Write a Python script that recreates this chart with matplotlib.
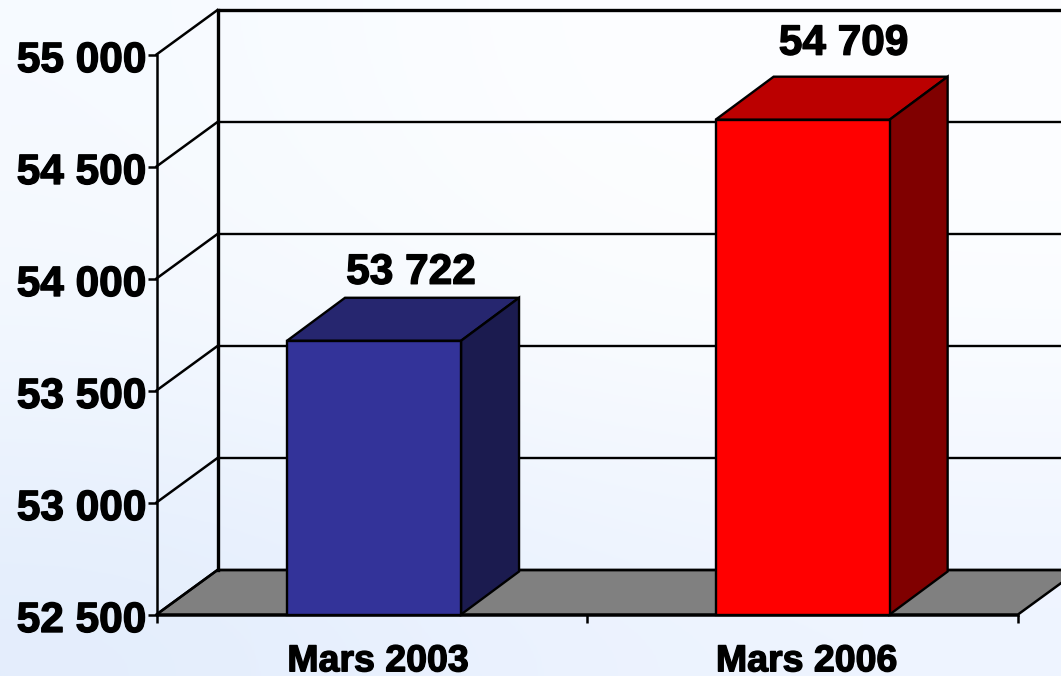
import numpy as np
import matplotlib
matplotlib.use("Agg")
import matplotlib.pyplot as plt
import matplotlib.patheffects as pe
from matplotlib.patches import Polygon
from matplotlib.transforms import Affine2D, IdentityTransform, ScaledTranslation

categories = ["Mars 2003", "Mars 2006"]
values = [53722, 54709]
value_labels = ["53 722", "54 709"]
y_ticks = [52500, 53000, 53500, 54000, 54500, 55000]
y_tick_labels = ["52 500", "53 000", "53 500", "54 000", "54 500", "55 000"]
front_colors = ["#333399", "#FF0000"]
top_colors = ["#26266F", "#BB0000"]
side_colors = ["#1B1B4F", "#800000"]

W, H = 1061, 676
plt.rcParams["font.family"] = ["Liberation Sans", "DejaVu Sans"]
plt.rcParams["font.weight"] = "bold"
fig = plt.figure(figsize=(W / 100, H / 100), dpi=100)

# background gradient
bg = fig.add_axes([0, 0, 1, 1], zorder=0)
bg.axis("off")
rows = np.array([
    [[0xF6, 0xFA, 0xFF], [0xFD, 0xFE, 0xFF], [0xFD, 0xFE, 0xFF]],
    [[0xF3, 0xF8, 0xFF], [0xFA, 0xFC, 0xFF], [0xFB, 0xFD, 0xFF]],
    [[0xE3, 0xED, 0xFC], [0xEB, 0xF2, 0xFF], [0xEE, 0xF4, 0xFF]],
]) / 255
bg.imshow(rows, aspect="auto", interpolation="bicubic", extent=[0, 1, 0, 1])
bg.set_xlim(0, 1)
bg.set_ylim(0, 1)

# front plane of the plot area
px_left, px_right, px_top, px_bottom = 156.5, 1018, 54.5, 614.5
ax = fig.add_axes([px_left / W, 1 - px_bottom / H,
                   (px_right - px_left) / W, (px_bottom - px_top) / H], zorder=1)
ax.patch.set_alpha(0)
ax.set_xlim(-0.5, 1.5)
ax.set_ylim(52500, 55000)

wall_dx, wall_dy = 61, 44.5
bar_dx, bar_dy = 58, 43
wall = ax.transData + Affine2D().translate(wall_dx, wall_dy)

x0, x1 = ax.get_xlim()
# floor
p = ax.transData.transform([(x0, y_ticks[0]), (x1, y_ticks[0])])
floor = [p[0], p[1], p[1] + (wall_dx, wall_dy), p[0] + (wall_dx, wall_dy)]
ax.add_patch(Polygon(floor, closed=True, transform=IdentityTransform(), clip_on=False,
                     facecolor="#808080", edgecolor="black", linewidth=1.8,
                     zorder=1, joinstyle="miter"))

# back wall grid and left wall diagonals
for i, t in enumerate(y_ticks):
    lw = 2.4 if i == len(y_ticks) - 1 else 1.7
    ax.plot([x0, x1 + 0.2], [t, t], transform=wall, color="black", lw=lw,
            clip_on=False, zorder=1.5, solid_capstyle="butt")
    q = ax.transData.transform((x0, t))
    ax.plot([q[0], q[0] + wall_dx], [q[1], q[1] + wall_dy], transform=IdentityTransform(),
            color="black", lw=1.8, clip_on=False, zorder=1.5)
ax.plot([x0, x0], [y_ticks[0], y_ticks[-1]], transform=wall, color="black", lw=2.4,
        clip_on=False, zorder=1.5, solid_capstyle="projecting")

# bars
cat_pos = np.array([0.005, 1.0])
bars = ax.bar(cat_pos, np.array(values) - y_ticks[0], bottom=y_ticks[0], width=0.404,
              color=front_colors, edgecolor="black", linewidth=1.7, zorder=3, clip_on=False)
for i, b in enumerate(bars):
    xl, xr = b.get_x(), b.get_x() + b.get_width()
    ytop, ybot = b.get_y() + b.get_height(), b.get_y()
    tl, tr, br = ax.transData.transform([(xl, ytop), (xr, ytop), (xr, ybot)])
    d = np.array([bar_dx, bar_dy])
    ax.add_patch(Polygon([tl, tr, tr + d, tl + d], closed=True, transform=IdentityTransform(),
                         clip_on=False, facecolor=top_colors[i], edgecolor="black",
                         linewidth=1.7, zorder=2.5, joinstyle="miter"))
    ax.add_patch(Polygon([tr, br, br + d, tr + d], closed=True, transform=IdentityTransform(),
                         clip_on=False, facecolor=side_colors[i], edgecolor="black",
                         linewidth=1.7, zorder=2.5, joinstyle="miter"))

fat = [pe.withStroke(linewidth=1.0, foreground="black")]

# value labels
label_offsets = [(37, 68), (41, 76)]
for i, b in enumerate(bars):
    ax.annotate(value_labels[i], (cat_pos[i], values[i]), xytext=label_offsets[i],
                textcoords="offset pixels", ha="center", va="center", fontsize=30.5,
                fontweight="bold", color="black", path_effects=fat, annotation_clip=False,
                zorder=5)

# axes
for s in ("top", "right"):
    ax.spines[s].set_visible(False)
for s in ("left", "bottom"):
    ax.spines[s].set_linewidth(1.8)
    ax.spines[s].set_zorder(2)

ax.set_yticks(y_ticks)
ax.set_yticklabels(y_tick_labels, fontsize=30.5, fontweight="bold", path_effects=fat)
ax.tick_params(axis="y", length=6.5, width=1.8, pad=1)
ax.set_xticks([-0.5, 0.5, 1.5])
ax.set_xticklabels([])
ax.set_xticks(cat_pos, minor=True)
ax.set_xticklabels(categories, minor=True, fontsize=27, fontweight="bold", path_effects=fat)
ax.tick_params(axis="x", which="major", length=5.5, width=1.8)
ax.tick_params(axis="x", which="minor", length=0, pad=20)

shift = ScaledTranslation(0, -2 / 100, fig.dpi_scale_trans)
for lab in ax.get_yticklabels():
    lab.set_transform(lab.get_transform() + shift)
shift_x = ScaledTranslation(4 / 100, -1 / 100, fig.dpi_scale_trans)
for lab in ax.get_xticklabels(minor=True):
    lab.set_transform(lab.get_transform() + shift_x)

fig.savefig("out.png", dpi=100)
